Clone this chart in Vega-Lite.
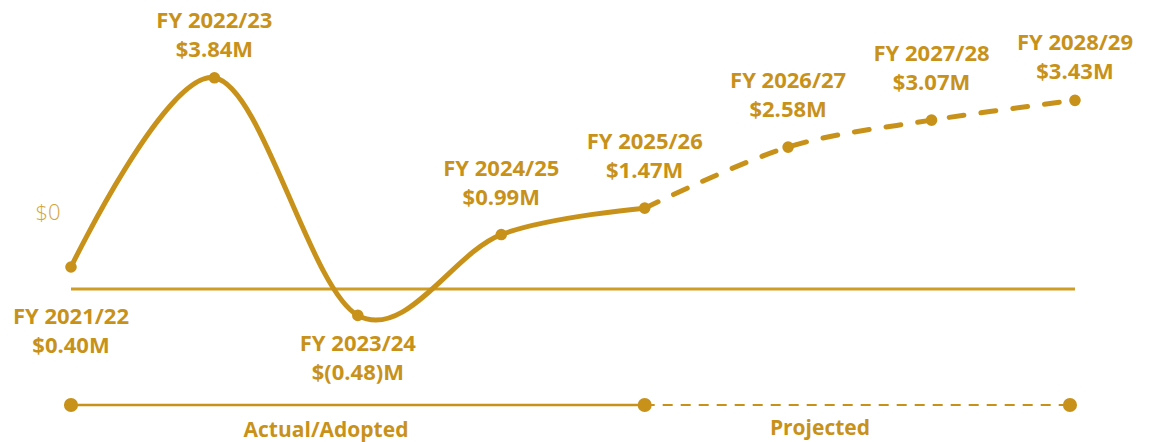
{
  "$schema": "https://vega.github.io/schema/vega-lite/v6.json",
  "width": 1156,
  "height": 442,
  "autosize": {"type": "fit", "contains": "padding"},
  "padding": 0,
  "background": "white",
  "config": {"view": {"stroke": null}, "text": {"font": "Open Sans", "color": "#C8921A", "fontWeight": "bold", "fontSize": 22}},
  "datasets": {
    "pts": [
      {"x": 0, "y": 0.40, "fy": "FY 2021/22", "amt": "$0.40M"},
      {"x": 1, "y": 3.84, "fy": "FY 2022/23", "amt": "$3.84M"},
      {"x": 2, "y": -0.48, "fy": "FY 2023/24", "amt": "$(0.48)M"},
      {"x": 3, "y": 0.99, "fy": "FY 2024/25", "amt": "$0.99M"},
      {"x": 4, "y": 1.47, "fy": "FY 2025/26", "amt": "$1.47M"},
      {"x": 5, "y": 2.58, "fy": "FY 2026/27", "amt": "$2.58M"},
      {"x": 6, "y": 3.07, "fy": "FY 2027/28", "amt": "$3.07M"},
      {"x": 7, "y": 3.43, "fy": "FY 2028/29", "amt": "$3.43M"}
    ],
    "timeline": [
      {"x": 0, "x2": 4, "y": -2.109, "kind": "actual"},
      {"x": 4, "x2": 6.965, "y": -2.109, "kind": "projected"}
    ],
    "tdots": [
      {"x": 0, "y": -2.109},
      {"x": 4, "y": -2.109},
      {"x": 6.965, "y": -2.109}
    ],
    "tlabels": [
      {"x": 1.778, "y": -2.58, "label": "Actual/Adopted"},
      {"x": 5.222, "y": -2.55, "label": "Projected"}
    ]
  },
  "encoding": {
    "x": {"field": "x", "type": "quantitative", "scale": {"domain": [-0.495, 7.565], "nice": false, "zero": false}, "axis": null},
    "y": {"field": "y", "type": "quantitative", "scale": {"domain": [-2.782, 5.2545], "nice": false, "zero": false}, "axis": null}
  },
  "layer": [
    {
      "data": {"values": [{"x": 0, "x2": 7, "y": 0}]},
      "mark": {"type": "rule", "color": "#CF9C24", "strokeWidth": 3},
      "encoding": {"x2": {"field": "x2"}}
    },
    {
      "data": {"name": "pts"},
      "transform": [{"filter": "datum.x <= 4"}],
      "mark": {"type": "line", "interpolate": "cardinal", "color": "#C8921A", "strokeWidth": 5, "strokeCap": "round"}
    },
    {
      "data": {"name": "pts"},
      "transform": [{"filter": "datum.x >= 4"}],
      "mark": {"type": "line", "interpolate": "cardinal", "color": "#C8921A", "strokeWidth": 5, "strokeDash": [15, 17], "strokeCap": "round"}
    },
    {
      "data": {"name": "pts"},
      "mark": {"type": "point", "filled": true, "opacity": 1, "color": "#C8921A", "size": 135}
    },
    {
      "data": {"name": "pts"},
      "transform": [{"filter": "datum.x == 1 || datum.x == 7"}],
      "mark": {"type": "text", "baseline": "middle", "dy": -57},
      "encoding": {"text": {"field": "fy"}}
    },
    {
      "data": {"name": "pts"},
      "transform": [{"filter": "datum.x == 1 || datum.x == 7"}],
      "mark": {"type": "text", "baseline": "middle", "dy": -28},
      "encoding": {"text": {"field": "amt"}}
    },
    {
      "data": {"name": "pts"},
      "transform": [{"filter": "datum.x >= 3 && datum.x <= 6"}],
      "mark": {"type": "text", "baseline": "middle", "dy": -66},
      "encoding": {"text": {"field": "fy"}}
    },
    {
      "data": {"name": "pts"},
      "transform": [{"filter": "datum.x >= 3 && datum.x <= 6"}],
      "mark": {"type": "text", "baseline": "middle", "dy": -37},
      "encoding": {"text": {"field": "amt"}}
    },
    {
      "data": {"name": "pts"},
      "transform": [{"filter": "datum.x == 2"}],
      "mark": {"type": "text", "baseline": "middle", "dy": 29},
      "encoding": {"text": {"field": "fy"}}
    },
    {
      "data": {"name": "pts"},
      "transform": [{"filter": "datum.x == 2"}],
      "mark": {"type": "text", "baseline": "middle", "dy": 58},
      "encoding": {"text": {"field": "amt"}}
    },
    {
      "data": {"name": "pts"},
      "transform": [{"filter": "datum.x == 0"}],
      "mark": {"type": "text", "baseline": "middle", "dy": 50},
      "encoding": {"text": {"field": "fy"}}
    },
    {
      "data": {"name": "pts"},
      "transform": [{"filter": "datum.x == 0"}],
      "mark": {"type": "text", "baseline": "middle", "dy": 79},
      "encoding": {"text": {"field": "amt"}}
    },
    {
      "data": {"values": [{"x": -0.16, "y": 1.38, "label": "$0"}]},
      "mark": {"type": "text", "fontWeight": 300, "fontSize": 22, "font": "Open Sans", "color": "#D4A53A", "baseline": "middle"},
      "encoding": {"text": {"field": "label"}}
    },
    {
      "data": {"name": "timeline"},
      "transform": [{"filter": "datum.kind == 'actual'"}],
      "mark": {"type": "rule", "color": "#C8921A", "strokeWidth": 2.5},
      "encoding": {"x2": {"field": "x2"}}
    },
    {
      "data": {"name": "timeline"},
      "transform": [{"filter": "datum.kind == 'projected'"}],
      "mark": {"type": "rule", "color": "#C8921A", "strokeWidth": 2, "strokeDash": [10, 8]},
      "encoding": {"x2": {"field": "x2"}}
    },
    {
      "data": {"name": "tdots"},
      "mark": {"type": "point", "filled": true, "opacity": 1, "color": "#C8921A", "size": 200}
    },
    {
      "data": {"name": "tlabels"},
      "mark": {"type": "text", "baseline": "middle", "fontSize": 21},
      "encoding": {"text": {"field": "label"}}
    }
  ]
}
